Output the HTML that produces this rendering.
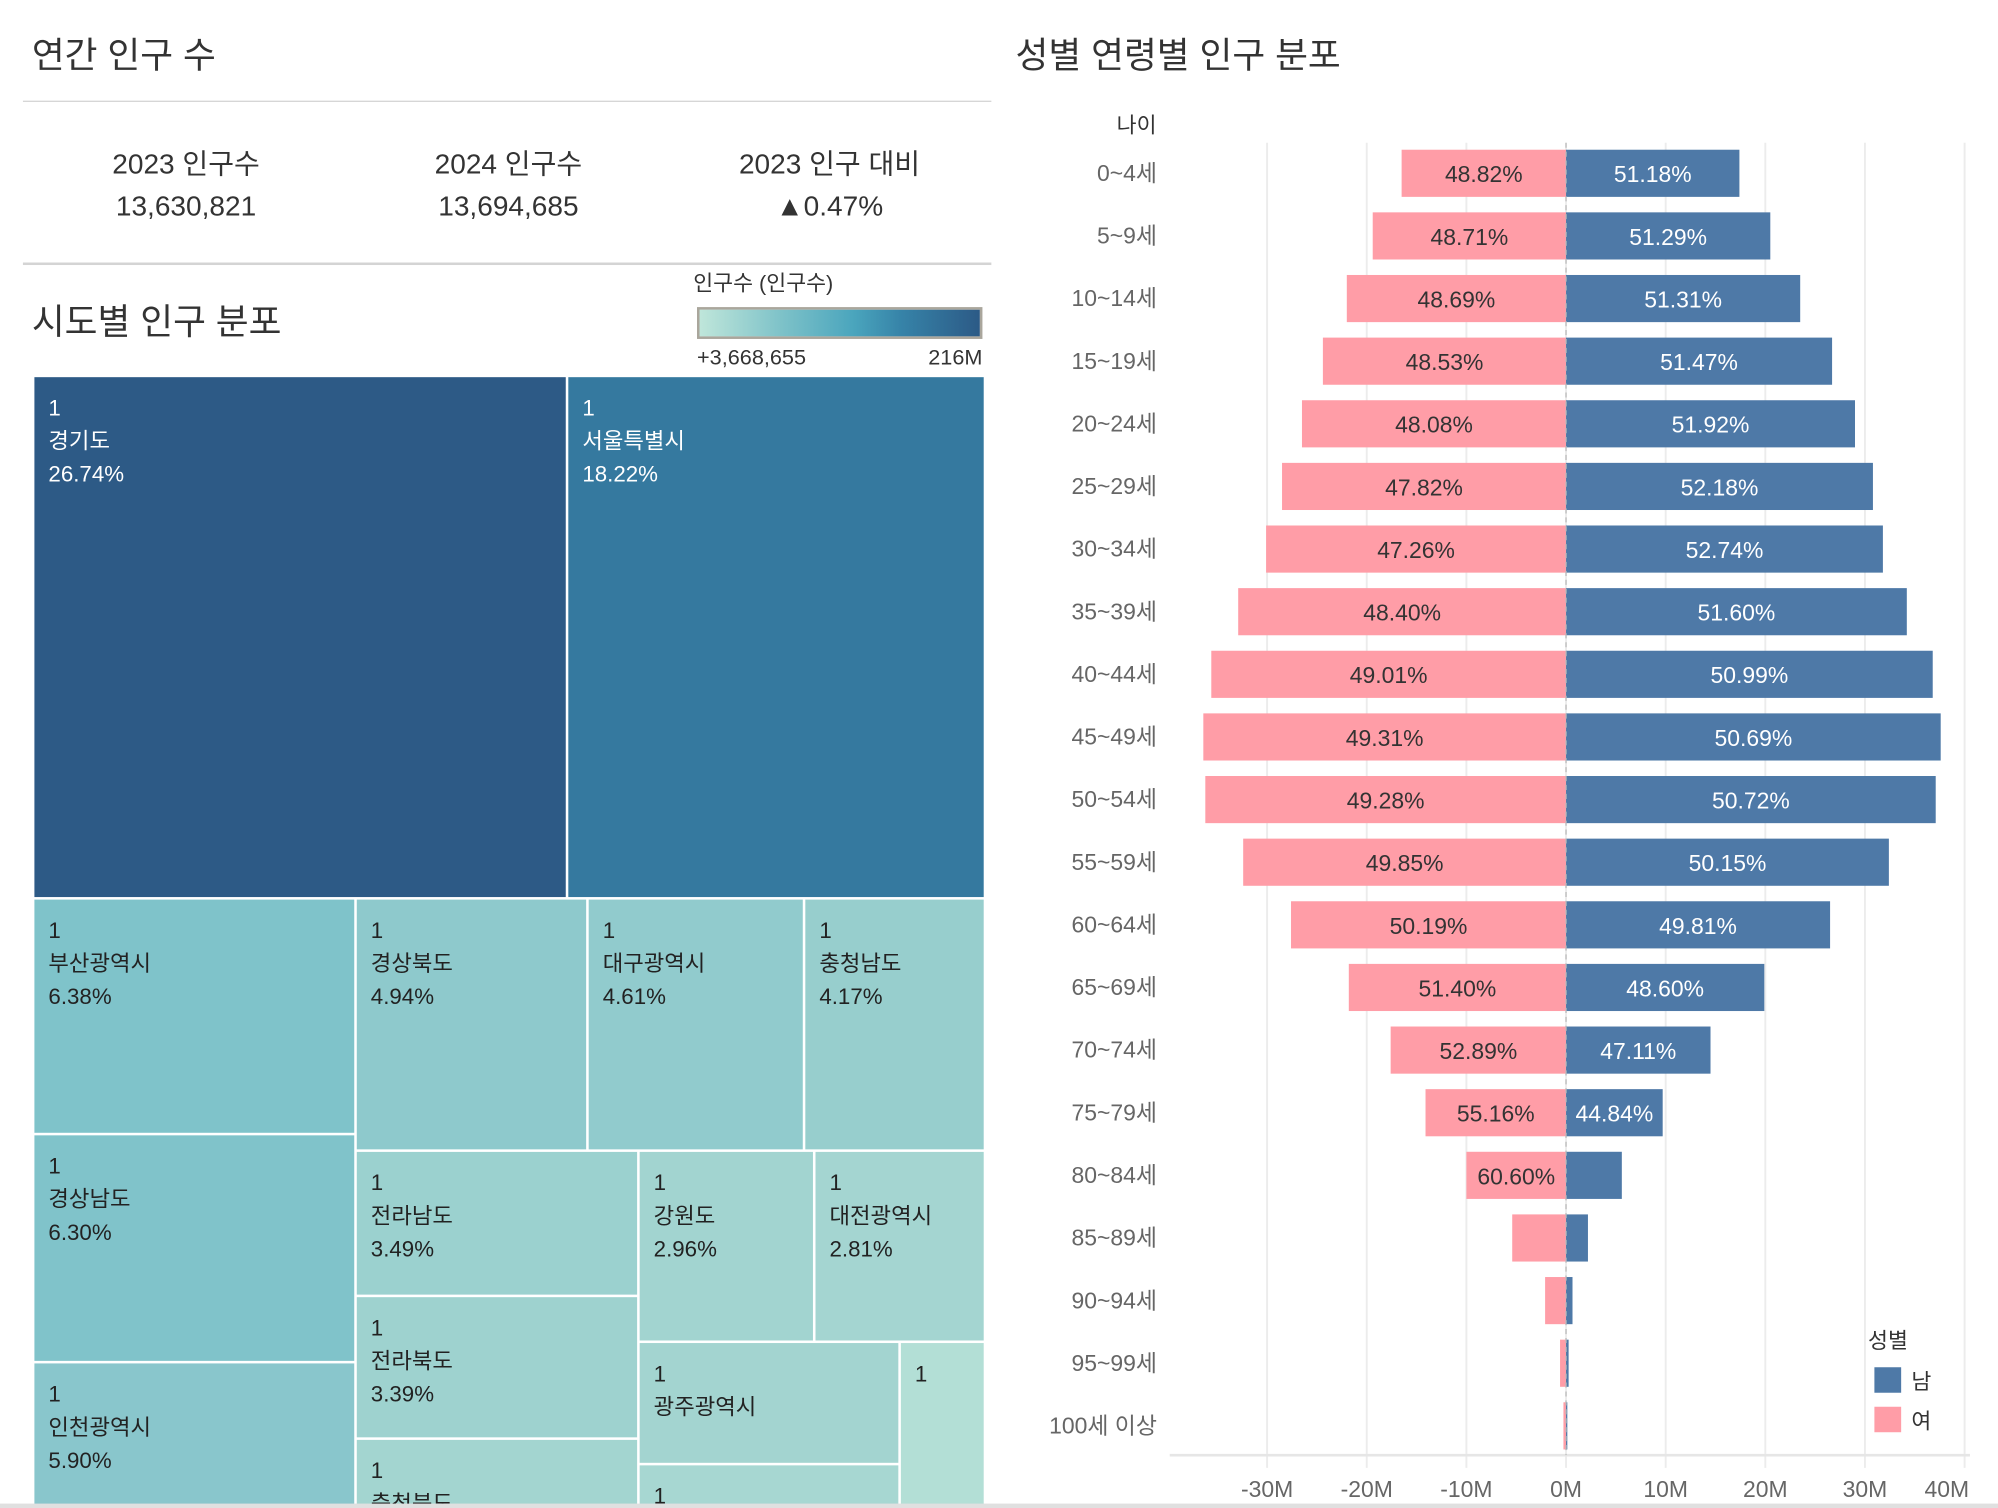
<!DOCTYPE html>
<html><head><meta charset="utf-8">
<style>
html,body{margin:0;padding:0;background:#fff;overflow:hidden}
body{width:1998px;height:1508px;position:relative}
#wrap{position:absolute;left:0;top:0;width:1568px;height:1183.5px;transform:scale(1.27423);transform-origin:0 0;font-family:"Liberation Sans","Noto Sans CJK KR",sans-serif;color:#333}
.abs{position:absolute}
.title{font-size:28px;color:#333}
.kpi{position:absolute;width:240px;text-align:center;font-size:22px;line-height:33px;color:#333}
.tm{position:absolute;box-sizing:border-box;font-size:17.5px;line-height:26px;padding:11px 0 0 11px;overflow:hidden;color:#222}
.tm.w{color:#fff}
</style></head><body>
<div id="wrap">
<div class="abs title" style="left:25px;top:22px">연간 인구 수</div>
<div class="abs" style="left:18px;top:79px;width:760px;height:1px;background:#d4d4d4"></div>
<div class="kpi" style="left:26px;top:112px">2023 인구수<br>13,630,821</div>
<div class="kpi" style="left:279px;top:112px">2024 인구수<br>13,694,685</div>
<div class="kpi" style="left:531px;top:112px">2023 인구 대비<br>▲0.47%</div>
<div class="abs" style="left:18px;top:206px;width:760px;height:2px;background:#d4d4d4"></div>
<div class="abs title" style="left:25px;top:231px">시도별 인구 분포</div>
<div class="abs" style="left:520px;top:208px;width:158px;text-align:center;font-size:17px">인구수 (인구수)</div>
<div class="abs" style="left:547px;top:241px;width:220px;height:21px;border:2px solid #aaa69c;background:linear-gradient(90deg,#bfe6da,#7cc1c8 30%,#4aa5bd 55%,#3683a8 72%,#2c5a86)"></div>
<div class="abs" style="left:547px;top:271px;font-size:17px">+3,668,655</div>
<div class="abs" style="left:700px;top:271px;width:71px;text-align:right;font-size:17px">216M</div>

<div class="tm w" style="left:27px;top:296px;width:417px;height:408px;background:#2d5a86">1<br>경기도<br>26.74%</div>
<div class="tm w" style="left:446px;top:296px;width:326px;height:408px;background:#35799f">1<br>서울특별시<br>18.22%</div>
<div class="tm" style="left:27px;top:706px;width:251px;height:183px;background:#7fc3ca">1<br>부산광역시<br>6.38%</div>
<div class="tm" style="left:280px;top:706px;width:180px;height:196px;background:#8ec9cc">1<br>경상북도<br>4.94%</div>
<div class="tm" style="left:462px;top:706px;width:168px;height:196px;background:#91cbcd">1<br>대구광역시<br>4.61%</div>
<div class="tm" style="left:632px;top:706px;width:140px;height:196px;background:#97cecd">1<br>충청남도<br>4.17%</div>
<div class="tm" style="left:27px;top:891px;width:251px;height:177px;background:#80c3ca">1<br>경상남도<br>6.30%</div>
<div class="tm" style="left:27px;top:1070px;width:251px;height:120px;background:#89c6cc">1<br>인천광역시<br>5.90%</div>
<div class="tm" style="left:280px;top:904px;width:220px;height:112px;background:#9bd1cf">1<br>전라남도<br>3.49%</div>
<div class="tm" style="left:502px;top:904px;width:136px;height:148px;background:#a2d4d0">1<br>강원도<br>2.96%</div>
<div class="tm" style="left:640px;top:904px;width:132px;height:148px;background:#a4d5d1">1<br>대전광역시<br>2.81%</div>
<div class="tm" style="left:280px;top:1018px;width:220px;height:110px;background:#9ed2cf">1<br>전라북도<br>3.39%</div>
<div class="tm" style="left:280px;top:1130px;width:220px;height:60px;background:#a3d5d0">1<br>충청북도</div>
<div class="tm" style="left:502px;top:1054px;width:203px;height:94px;background:#a3d4d0">1<br>광주광역시</div>
<div class="tm" style="left:502px;top:1150px;width:203px;height:40px;background:#a7d7d2">1</div>
<div class="tm" style="left:707px;top:1054px;width:65px;height:136px;background:#b3dfd6">1</div>
<div class="abs" style="left:0;top:1180px;width:1568px;height:4px;background:#e0e0e0"></div>

<div class="abs title" style="left:797px;top:22px">성별 연령별 인구 분포</div>
<svg class="abs" style="left:0;top:0" width="1568" height="1180" id="pyr"></svg>
</div>
<script>
const ages=["0~4세","5~9세","10~14세","15~19세","20~24세","25~29세","30~34세","35~39세","40~44세","45~49세","50~54세","55~59세","60~64세","65~69세","70~74세","75~79세","80~84세","85~89세","90~94세","95~99세","100세 이상"];
const maleM=[17.4,20.5,23.5,26.7,29.0,30.8,31.8,34.2,36.8,37.6,37.1,32.4,26.5,19.9,14.5,9.7,5.6,2.2,0.65,0.26,0.13];
const femaleM=[16.5,19.4,22.0,24.4,26.5,28.5,30.1,32.9,35.6,36.4,36.2,32.4,27.6,21.8,17.6,14.1,10.0,5.4,2.1,0.6,0.26];
const femalePct=["48.82%","48.71%","48.69%","48.53%","48.08%","47.82%","47.26%","48.40%","49.01%","49.31%","49.28%","49.85%","50.19%","51.40%","52.89%","55.16%","60.60%","","","",""];
const malePct=["51.18%","51.29%","51.31%","51.47%","51.92%","52.18%","52.74%","51.60%","50.99%","50.69%","50.72%","50.15%","49.81%","48.60%","47.11%","44.84%","","","","",""];
const ticks=[-30,-20,-10,0,10,20,30,40];
const tickLabels=["-30M","-20M","-10M","0M","10M","20M","30M","40M"];
const NS="http://www.w3.org/2000/svg";
const svg=document.getElementById('pyr');
const x=v=>1229+v*7.82;
const y=i=>136+i*49.15;
const top0=112,bot=1142,bh=37;
function mk(t,a,p){const e=document.createElementNS(NS,t);for(const k in a)e.setAttribute(k,a[k]);(p||svg).appendChild(e);return e;}
ticks.forEach((t,i)=>{
  const g=mk('line',{x1:x(t),x2:x(t),y1:top0,y2:bot+10,stroke:'#ececec','stroke-width':1.5});
  
  
  let lx=x(t); if(i===ticks.length-1) lx-=14;
  const tx=mk('text',{x:lx,y:1175,'text-anchor':'middle','font-size':18,fill:'#666','font-family':'"Liberation Sans","Noto Sans CJK KR",sans-serif'});
  tx.textContent=tickLabels[i];
  
  
});
const ax=mk('line',{x1:918,x2:1546,y1:bot,y2:bot,stroke:'#e6e6e6','stroke-width':2});


const yt=mk('text',{x:892,y:104,'text-anchor':'middle','font-size':17,fill:'#333','font-family':'"Liberation Sans","Noto Sans CJK KR",sans-serif'});
yt.textContent='나이';


ages.forEach((a,i)=>{
  const cy=y(i);
  const l=mk('text',{x:908,y:cy+6,'text-anchor':'end','font-size':18,fill:'#666','font-family':'"Liberation Sans","Noto Sans CJK KR",sans-serif'});
  l.textContent=a;
  
  
  const f=mk('rect',{x:x(-femaleM[i]),y:cy-bh/2,width:x(0)-x(-femaleM[i]),height:bh,fill:'#ff9da7'});
  
  
  const m=mk('rect',{x:x(0),y:cy-bh/2,width:x(maleM[i])-x(0),height:bh,fill:'#4e79a7'});
  
  
  if(femalePct[i]){const t=mk('text',{x:(x(-femaleM[i])+x(0))/2,y:cy+7,'text-anchor':'middle','font-size':18,fill:'#333','font-family':'"Liberation Sans",sans-serif'});t.textContent=femalePct[i];
  
  }
  if(malePct[i]){const t=mk('text',{x:(x(maleM[i])+x(0))/2,y:cy+7,'text-anchor':'middle','font-size':18,fill:'#fff','font-family':'"Liberation Sans",sans-serif'});t.textContent=malePct[i];
  
  }
});
const zl=mk('line',{x1:x(0),x2:x(0),y1:top0,y2:bot,stroke:'#bbb','stroke-width':1,'stroke-dasharray':'4,3'});


const lt=mk('text',{x:1466,y:1058,'font-size':17,fill:'#333','font-family':'"Liberation Sans","Noto Sans CJK KR",sans-serif'});
lt.textContent='성별';


[['남','#4e79a7',1073],['여','#ff9da7',1104]].forEach(([n,c,yy])=>{
  const r=mk('rect',{x:1471,y:yy,width:21,height:20,fill:c});
  
  
  const t=mk('text',{x:1500,y:yy+17,'font-size':17,fill:'#333','font-family':'"Liberation Sans","Noto Sans CJK KR",sans-serif'});
  t.textContent=n;
  
  
});
</script>
</body></html>
